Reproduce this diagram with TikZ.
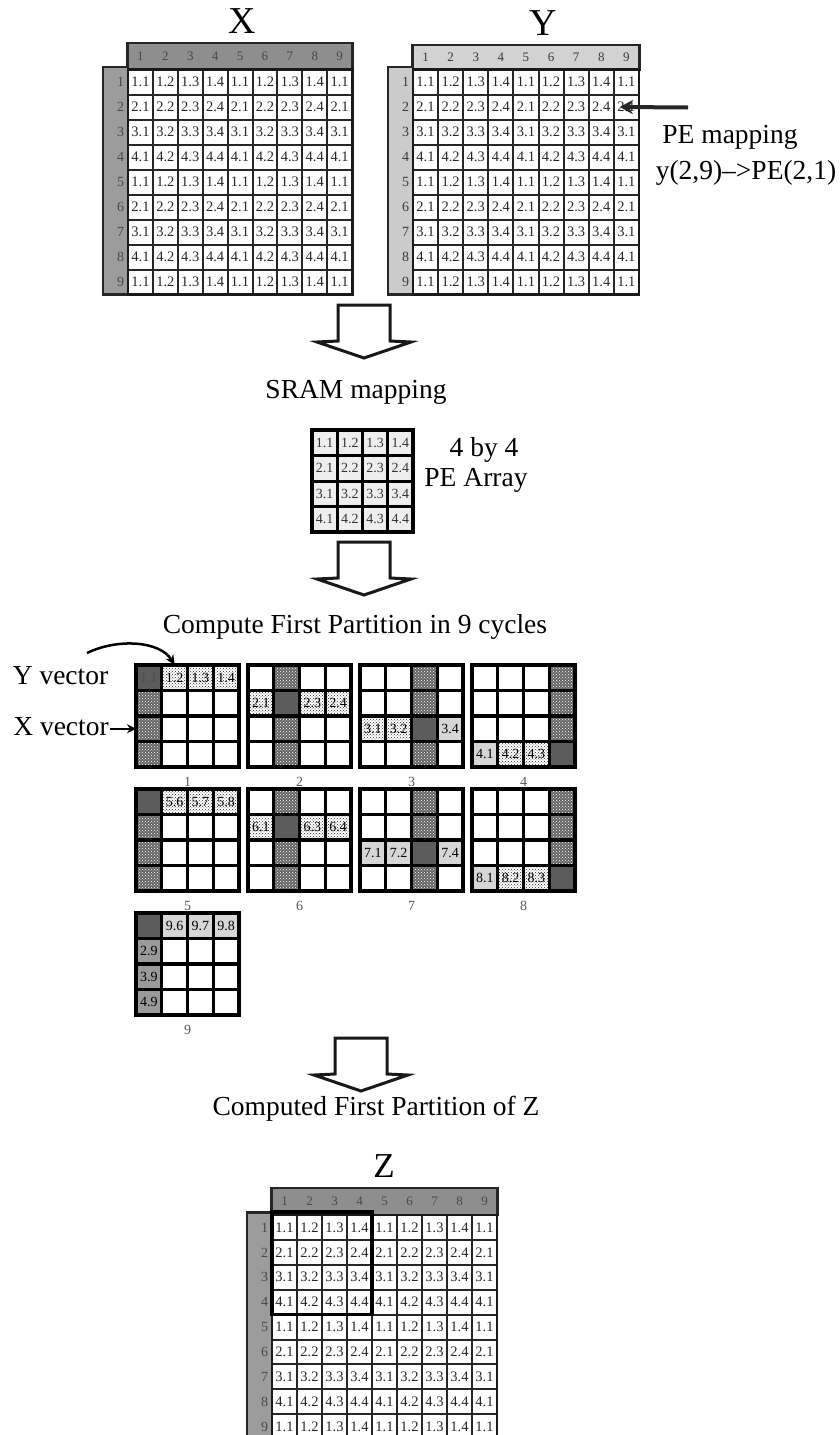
\documentclass[tikz,border=0pt]{standalone}
\usepackage{fontspec}
\setmainfont{Liberation Serif}
\usetikzlibrary{patterns,arrows.meta}
\definecolor{xhead}{HTML}{8E8E8E}
\definecolor{xside}{HTML}{9C9C9C}
\definecolor{yhead}{HTML}{D2D2D2}
\definecolor{yside}{HTML}{CBCBCB}
\definecolor{numx}{HTML}{4A4A4A}
\definecolor{numy}{HTML}{3A3A3A}
\definecolor{darkcell}{HTML}{5C5C5C}
\definecolor{dotbase}{HTML}{646464}
\definecolor{lightcell}{HTML}{D6D6D6}
\definecolor{midcell}{HTML}{9A9A9A}
\definecolor{pecell}{HTML}{EEEEEE}
\tikzset{
 every node/.style={inner sep=0pt, outer sep=0pt},
 bigtxt/.style={font=\fontsize{27.5}{30}\selectfont, anchor=base},
 ttl/.style={font=\fontsize{38}{40}\selectfont, anchor=base},
 mcell/.style={anchor=north west, fill=white, font=\fontsize{14.5}{15}\selectfont, text=black!85},
 mline/.style={line width=2pt, draw=black!85},
 mframe/.style={line width=2.8pt, draw=black!90},
 barbox/.style={draw=black!85, line width=2.6pt},
 hnum/.style={font=\fontsize{13}{14}\selectfont},
 snum/.style={font=\fontsize{14}{15}\selectfont, anchor=east},
 cbox/.style={anchor=north west, minimum width=25.75, minimum height=25.5, font=\fontsize{14}{15}\selectfont},
 dk/.style={fill=darkcell},
 ds/.style={preaction={fill=dotbase}, pattern=crosshatch dots, pattern color=white},
 ls/.style={preaction={fill=white}, pattern=crosshatch dots, pattern color=black!80},
 lg/.style={fill=lightcell},
 mg/.style={fill=midcell},
 cline/.style={line width=3.4pt},
 cframe/.style={line width=4pt},
 glabel/.style={anchor=base, font=\fontsize{14}{15}\selectfont, text=black!65},
 blockarrow/.style={draw=black!90, line width=3pt, fill=white, line join=miter},
 pearrow/.style={line width=4pt, draw=black!85, -{Stealth[length=13pt,width=14pt]}},
 vecarrow/.style={line width=2.5pt, -{Stealth[length=10pt,width=9pt]}},
 pcell/.style={anchor=north west, fill=pecell, minimum width=25.25, minimum height=25.5, font=\fontsize{14}{15}\selectfont, text=black!80},
}
% big 9x9 matrix: #1 name #2 left #3 top #4 cw #5 ch #6 headfill #7 sidefill #8 header height #9 number colour
\newcommand\bigmat[9]{%
\begin{scope}[shift={(#2,#3)}]
 \node[barbox, fill=#6, minimum width={9*#4+1}, minimum height=#8, anchor=south west] (#1head) at (-0.5,0) {};
 \node[barbox, fill=#7, minimum width=25, minimum height={9*#5+2.5}, anchor=north east] (#1side) at (0,-2.5) {};
 \foreach \c in {1,...,9} {\node[hnum, text=#9] (#1h\c) at ({(\c-0.5)*#4},{-#8/2}) {\c};}
 \foreach \r in {1,...,9} {\node[snum, text=#9] (#1s\r) at (-4,{(\r-0.5)*#5}) {\r};}
 \foreach \r in {1,...,9} {\foreach \c in {1,...,9} {%
   \pgfmathtruncatemacro\ra{mod(\r-1,4)+1}%
   \pgfmathtruncatemacro\cb{mod(\c-1,4)+1}%
   \node[mcell, minimum width=#4, minimum height=#5] (#1-\r-\c) at ({(\c-1)*#4},{(\r-1)*#5}) {\ra.\cb};}}
 \foreach \i in {1,...,8} {\draw[mline] ({\i*#4},0) -- ({\i*#4},{9*#5}); \draw[mline] (0,{\i*#5}) -- ({9*#4},{\i*#5});}
 \draw[mframe] (0,0) rectangle ({9*#4},{9*#5});
\end{scope}}
% cycle grid: #1 id #2 left #3 top #4 cells
\newcommand\cyc[4]{%
\begin{scope}[shift={(#2,#3)}]
 \def\gid{#1}%
 #4
 \foreach \i in {1,2,3} {\draw[cline] ({\i*25.75},0) -- ({\i*25.75},102); \draw[cline] (0,{\i*25.5}) -- (103,{\i*25.5});}
 \draw[cframe] (0,0) rectangle (103,102);
 \node[glabel] (lab#1) at (51.5,121) {#1};
\end{scope}}
\newcommand\cc[4]{\node[cbox,#3] (g\gid-#1-#2) at ({(#2-1)*25.75},{(#1-1)*25.5}) {#4};}
% hollow block arrow: #1 cx #2 top
\newcommand\barrow[2]{%
 \draw[blockarrow] ({#1-26},#2) -- ({#1+26},#2) -- ({#1+26},{#2+36}) -- ({#1+47},{#2+37}) -- (#1,{#2+53}) -- ({#1-47},{#2+37}) -- ({#1-26},{#2+36}) -- cycle;}
\begin{document}
\begin{tikzpicture}[x=1pt,y=-1pt]
\useasboundingbox (0,0) rectangle (839,1435);
\clip (0,0) rectangle (839,1435);
\fill[white] (0,0) rectangle (839,1435);
% titles and matrices
\node[ttl] (Xt) at (242,33) {X};
\node[ttl] (Yt) at (543,35) {Y};
\bigmat{X}{128}{69.5}{24.9}{25}{xhead}{xside}{26.5}{numx}
\bigmat{Y}{413}{69.5}{25.1}{25}{yhead}{yside}{24.5}{numy}
% PE mapping
\node[bigtxt] (pem) at (730,143) {PE mapping};
\node[bigtxt] (pemap) at (746,179) {y(2,9)\textendash{}>PE(2,1)};
\coordinate (pes) at (688,107.5);
\draw[pearrow] (pes) -- ([xshift=6pt]Y-2-9.west);
% arrow 1
\barrow{364}{305}
\node[bigtxt] (sram) at (356,398) {SRAM mapping};
% PE array
\begin{scope}[shift={(312,430)}]
 \foreach \r in {1,...,4} {\foreach \c in {1,...,4} {\node[pcell] (pe-\r-\c) at ({(\c-1)*25.25},{(\r-1)*25.5}) {\r.\c};}}
 \foreach \i in {1,2,3} {\draw[line width=3pt] ({\i*25.25},0) -- ({\i*25.25},102); \draw[line width=3pt] (0,{\i*25.5}) -- (101,{\i*25.5});}
 \draw[line width=3.5pt] (0,0) rectangle (101,102);
\end{scope}
\node[bigtxt] (fb) at (484,456.5) {4 by 4};
\node[bigtxt] (pa) at (476,486.5) {PE Array};
% arrow 2
\barrow{364}{542}
\node[bigtxt] (cfp) at (355,633) {Compute First Partition in 9 cycles};
% cycle grids
\cyc{1}{136}{665}{\cc{1}{1}{dk,text=black!70}{1.1}\cc{1}{2}{ls}{1.2}\cc{1}{3}{ls}{1.3}\cc{1}{4}{ls}{1.4}\cc{2}{1}{ds}{}\cc{3}{1}{ds}{}\cc{4}{1}{ds}{}}
\cyc{2}{248}{665}{\cc{1}{2}{ds}{}\cc{2}{1}{ls}{2.1}\cc{2}{2}{dk}{}\cc{2}{3}{ls}{2.3}\cc{2}{4}{ls}{2.4}\cc{3}{2}{ds}{}\cc{4}{2}{ds}{}}
\cyc{3}{360}{665}{\cc{1}{3}{ds}{}\cc{2}{3}{ds}{}\cc{3}{1}{ls}{3.1}\cc{3}{2}{ls}{3.2}\cc{3}{3}{dk}{}\cc{3}{4}{lg}{3.4}\cc{4}{3}{ds}{}}
\cyc{4}{472}{665}{\cc{1}{4}{ds}{}\cc{2}{4}{ds}{}\cc{3}{4}{ds}{}\cc{4}{1}{lg}{4.1}\cc{4}{2}{ls}{4.2}\cc{4}{3}{ls}{4.3}\cc{4}{4}{dk}{}}
\cyc{5}{136}{789}{\cc{1}{1}{dk}{}\cc{1}{2}{ls}{5.6}\cc{1}{3}{ls}{5.7}\cc{1}{4}{ls}{5.8}\cc{2}{1}{ds}{}\cc{3}{1}{ds}{}\cc{4}{1}{ds}{}}
\cyc{6}{248}{789}{\cc{1}{2}{ds}{}\cc{2}{1}{ls}{6.1}\cc{2}{2}{dk}{}\cc{2}{3}{ls}{6.3}\cc{2}{4}{ls}{6.4}\cc{3}{2}{ds}{}\cc{4}{2}{ds}{}}
\cyc{7}{360}{789}{\cc{1}{3}{ds}{}\cc{2}{3}{ds}{}\cc{3}{1}{lg}{7.1}\cc{3}{2}{lg}{7.2}\cc{3}{3}{dk}{}\cc{3}{4}{lg}{7.4}\cc{4}{3}{ds}{}}
\cyc{8}{472}{789}{\cc{1}{4}{ds}{}\cc{2}{4}{ds}{}\cc{3}{4}{ds}{}\cc{4}{1}{lg}{8.1}\cc{4}{2}{ls}{8.2}\cc{4}{3}{ls}{8.3}\cc{4}{4}{dk}{}}
\cyc{9}{136}{913}{\cc{1}{1}{dk}{}\cc{1}{2}{lg}{9.6}\cc{1}{3}{lg}{9.7}\cc{1}{4}{lg}{9.8}\cc{2}{1}{mg}{2.9}\cc{3}{1}{mg}{3.9}\cc{4}{1}{mg}{4.9}}
% vector labels
\node[bigtxt] (yvec) at (60.5,684) {Y vector};
\node[bigtxt] (xvec) at (61,735) {X vector};
\coordinate (ys) at (87,653);
\draw[vecarrow] (ys) .. controls (118,638) and (160,641) .. (g1-1-2.north);
\draw[line width=2pt, -{Stealth[length=9pt,width=9pt]}] ([xshift=1pt]xvec.east |- g1-3-1.west) -- (g1-3-1.west);
% arrow 3
\barrow{361}{1038}
\node[bigtxt] (cfz) at (376,1115) {Computed First Partition of Z};
\node[ttl, font=\fontsize{35}{36}\selectfont] (Zt) at (384,1177) {Z};
\bigmat{Z}{272}{1215}{25}{24.9}{xhead}{xside}{27}{numx}
\draw[line width=3.5pt] ([yshift=3pt]Z-1-1.north west) rectangle (Z-4-4.south east);
\end{tikzpicture}
\end{document}
